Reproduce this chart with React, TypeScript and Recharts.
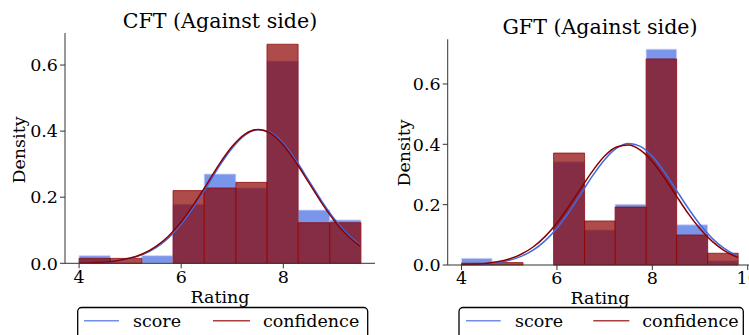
import React from 'react';
import { ComposedChart, Line, XAxis, YAxis, ReferenceArea } from 'recharts';

// ---------- CFT (Against side) ----------
const cftEdges = [4.0, 4.61, 5.23, 5.84, 6.45, 7.07, 7.68, 8.29, 8.91, 9.52];
const cftScore = [0.023, 0, 0.023, 0.179, 0.27, 0.228, 0.612, 0.161, 0.131];
const cftConfidence = [0.015, 0.015, 0, 0.22, 0.228, 0.245, 0.663, 0.123, 0.123];
const cftCurveX = [4, 4.25, 4.5, 4.75, 5, 5.25, 5.5, 5.75, 6, 6.25, 6.5, 6.75, 7, 7.25, 7.5, 7.75, 8, 8.25, 8.5, 8.75, 9, 9.25, 9.5];
const cftScoreCurve = [0.0006, 0.0015, 0.0034, 0.0073, 0.0146, 0.027, 0.047, 0.077, 0.119, 0.172, 0.232, 0.295, 0.349, 0.388, 0.404, 0.396, 0.363, 0.311, 0.25, 0.189, 0.134, 0.089, 0.056];
const cftConfidenceCurve = [0.0007, 0.0017, 0.0038, 0.008, 0.0158, 0.029, 0.0505, 0.082, 0.125, 0.179, 0.239, 0.301, 0.354, 0.391, 0.405, 0.393, 0.358, 0.305, 0.244, 0.183, 0.129, 0.085, 0.0527];
const cftXTicks = [4, 6, 8];
const cftYTicks = [0, 0.2, 0.4, 0.6];

// ---------- GFT (Against side) ----------
const gftEdges = [4.0, 4.64, 5.29, 5.93, 6.58, 7.22, 7.87, 8.51, 9.16, 9.8];
const gftScore = [0.022, 0, 0, 0.342, 0.116, 0.201, 0.715, 0.133, 0.014];
const gftConfidence = [0.006, 0.008, 0, 0.371, 0.146, 0.192, 0.683, 0.0995, 0.039];
const gftCurveX = [4, 4.25, 4.5, 4.75, 5, 5.25, 5.5, 5.75, 6, 6.25, 6.5, 6.75, 7, 7.25, 7.5, 7.75, 8, 8.25, 8.5, 8.75, 9, 9.25, 9.5, 9.75, 9.8];
const gftScoreCurve = [0.0007, 0.0017, 0.0037, 0.0078, 0.0154, 0.0284, 0.0492, 0.0801, 0.122, 0.175, 0.235, 0.296, 0.349, 0.387, 0.403, 0.393, 0.36, 0.309, 0.249, 0.189, 0.134, 0.089, 0.0556, 0.0326, 0.0291];
const gftConfidenceCurve = [0.001, 0.0024, 0.0051, 0.0104, 0.0198, 0.0355, 0.0596, 0.094, 0.139, 0.194, 0.254, 0.312, 0.361, 0.391, 0.398, 0.381, 0.343, 0.29, 0.23, 0.171, 0.12, 0.079, 0.0488, 0.0283, 0.0252];
const gftXTicks = [4, 6, 8, 10];
const gftYTicks = [0, 0.2, 0.4, 0.6];

const seriesNames = ['score', 'confidence'];

const FONT = 'DejaVu Serif';
const BLUE = '#4169E1';
const RED = '#8B0000';
const SPINE = '#333333';

type PanelProps = {
  edges: number[];
  score: number[];
  confidence: number[];
  curveX: number[];
  scoreCurve: number[];
  confidenceCurve: number[];
  xTicks: number[];
  yTicks: number[];
  xDomain: [number, number];
  yDomain: [number, number];
  width: number;
  height: number;
  margin: { top: number; right: number; bottom: number; left: number };
  yAxisWidth: number;
};

function Panel(p: PanelProps) {
  const rows = p.curveX.map((x, i) => ({ x, score: p.scoreCurve[i], confidence: p.confidenceCurve[i] }));
  const tickStyle = { fontFamily: FONT, fontSize: 17.5, fill: '#000' };
  const scoreBins = p.score
    .map((v, i) => ({ v, x1: p.edges[i], x2: p.edges[i + 1] }))
    .filter((b) => b.v > 0);
  const confBins = p.confidence
    .map((v, i) => ({ v, x1: p.edges[i], x2: p.edges[i + 1] }))
    .filter((b) => b.v > 0);
  return (
    <ComposedChart width={p.width} height={p.height} data={rows} margin={p.margin}>
      <XAxis
        dataKey="x"
        type="number"
        domain={p.xDomain}
        ticks={p.xTicks}
        allowDataOverflow
        tick={tickStyle}
        tickSize={5}
        tickMargin={2}
        stroke={SPINE}
        height={30}
        interval={0}
      />
      <XAxis
        xAxisId="top"
        orientation="top"
        type="number"
        domain={p.xDomain}
        allowDataOverflow
        tick={false}
        tickLine={false}
        stroke={SPINE}
        height={0}
      />
      <YAxis
        type="number"
        domain={p.yDomain}
        ticks={p.yTicks}
        allowDataOverflow
        tickFormatter={(v: number) => v.toFixed(1)}
        tick={tickStyle}
        tickSize={5}
        tickMargin={2}
        stroke={SPINE}
        width={p.yAxisWidth}
        interval={0}
      />
      <YAxis
        yAxisId="right"
        orientation="right"
        type="number"
        domain={p.yDomain}
        allowDataOverflow
        tick={false}
        tickLine={false}
        stroke={SPINE}
        width={0}
      />
      {scoreBins.map((b, i) => (
        <ReferenceArea
          key={'s' + i}
          x1={b.x1}
          x2={b.x2}
          y1={0}
          y2={b.v}
          fill={BLUE}
          fillOpacity={0.7}
          stroke="#c9d5f7"
          strokeOpacity={0.8}
          strokeWidth={1}
          ifOverflow="visible"
        />
      ))}
      {confBins.map((b, i) => (
        <ReferenceArea
          key={'c' + i}
          x1={b.x1}
          x2={b.x2}
          y1={0}
          y2={b.v}
          fill={RED}
          fillOpacity={0.7}
          stroke={RED}
          strokeOpacity={0.7}
          strokeWidth={1}
          ifOverflow="visible"
        />
      ))}
      <Line
        dataKey="score"
        name={seriesNames[0]}
        type="monotone"
        stroke={BLUE}
        strokeWidth={1.5}
        dot={false}
        activeDot={false}
        isAnimationActive={false}
      />
      <Line
        dataKey="confidence"
        name={seriesNames[1]}
        type="monotone"
        stroke={RED}
        strokeWidth={1.5}
        dot={false}
        activeDot={false}
        isAnimationActive={false}
      />
    </ComposedChart>
  );
}

function LegendBox({ x, lines }: { x: number; lines: { blue: [number, number]; sx: number; red: [number, number]; cx: number; w: number } }) {
  return (
    <g>
      <rect x={x} y={307.5} width={lines.w} height={40} rx={4} ry={4} fill="#fff" stroke="#000" strokeWidth={1.3} />
      <line x1={lines.blue[0]} x2={lines.blue[1]} y1={320.7} y2={320.7} stroke={BLUE} strokeOpacity={0.75} strokeWidth={1.5} />
      <text x={lines.sx} y={326.5} fontFamily={FONT} fontSize={17.5} fill="#000">{seriesNames[0]}</text>
      <line x1={lines.red[0]} x2={lines.red[1]} y1={320.7} y2={320.7} stroke={RED} strokeOpacity={0.75} strokeWidth={1.5} />
      <text x={lines.cx} y={326.5} fontFamily={FONT} fontSize={17.5} fill="#000">{seriesNames[1]}</text>
    </g>
  );
}

export default function App() {
  return (
    <div style={{ position: 'absolute', left: 0, top: 0, width: 749, height: 335, overflow: 'hidden', background: '#fff' }}>
      <div style={{ position: 'absolute', left: 0, top: 0 }}>
        <Panel
          edges={cftEdges}
          score={cftScore}
          confidence={cftConfidence}
          curveX={cftCurveX}
          scoreCurve={cftScoreCurve}
          confidenceCurve={cftConfidenceCurve}
          xTicks={cftXTicks}
          yTicks={cftYTicks}
          xDomain={[3.724, 9.796]}
          yDomain={[0, 0.697]}
          width={380}
          height={335}
          margin={{ top: 33, right: 5, bottom: 41.7, left: 0 }}
          yAxisWidth={65}
        />
      </div>
      <div style={{ position: 'absolute', left: 380, top: 0 }}>
        <Panel
          edges={gftEdges}
          score={gftScore}
          confidence={gftConfidence}
          curveX={gftCurveX}
          scoreCurve={gftScoreCurve}
          confidenceCurve={gftConfidenceCurve}
          xTicks={gftXTicks}
          yTicks={gftYTicks}
          xDomain={[3.71, 10.09]}
          yDomain={[0, 0.748]}
          width={372}
          height={335}
          margin={{ top: 39.3, right: 0, bottom: 40, left: 0 }}
          yAxisWidth={67.7}
        />
      </div>
      <svg width={749} height={335} style={{ position: 'absolute', left: 0, top: 0, pointerEvents: 'none' }}>
        <text x={220} y={28} textAnchor="middle" fontFamily={FONT} fontSize={20.6} fill="#000">CFT (Against side)</text>
        <text x={600} y={34} textAnchor="middle" fontFamily={FONT} fontSize={20.6} fill="#000">GFT (Against side)</text>
        <text x={220} y={303.3} textAnchor="middle" fontFamily={FONT} fontSize={17.5} fill="#000">Rating</text>
        <text x={600} y={304} textAnchor="middle" fontFamily={FONT} fontSize={17.5} fill="#000">Rating</text>
        <text transform="translate(25,150) rotate(-90)" textAnchor="middle" fontFamily={FONT} fontSize={17.5} fill="#000">Density</text>
        <text transform="translate(410,153) rotate(-90)" textAnchor="middle" fontFamily={FONT} fontSize={17.5} fill="#000">Density</text>
        <LegendBox x={77.7} lines={{ w: 290, blue: [84, 119], sx: 133, red: [213, 250], cx: 263 }} />
        <LegendBox x={459} lines={{ w: 284.3, blue: [466, 500.7], sx: 515, red: [593.3, 629.3], cx: 642.3 }} />
      </svg>
    </div>
  );
}
